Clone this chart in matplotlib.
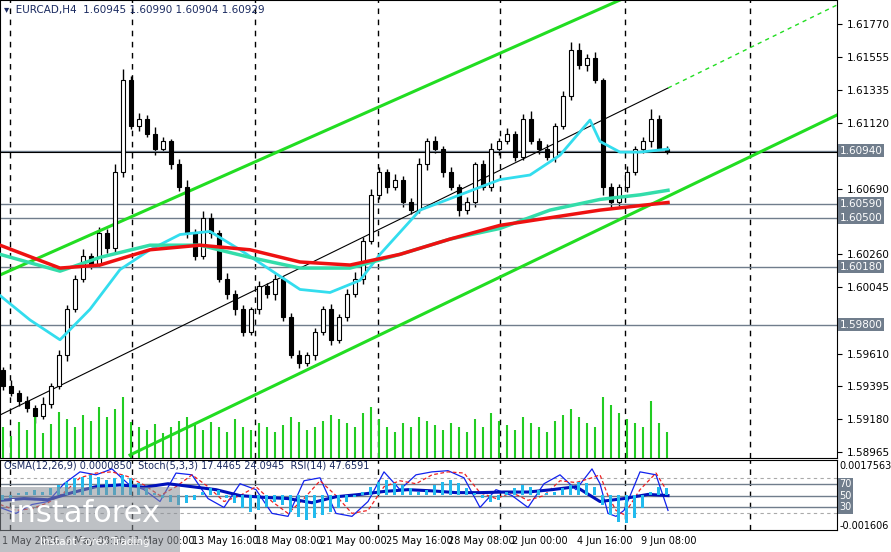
import numpy as np
import matplotlib
matplotlib.use("Agg")
import matplotlib.pyplot as plt

closes = [1.5940,1.5935,1.5930,1.5925,1.5920,1.5928,1.5940,1.5960,1.5990,1.6010,1.6025,1.6020,1.6040,1.6030,1.6080,1.6140,
          1.6110,1.6115,1.6105,1.6095,1.6100,1.6085,1.6070,1.6040,1.6025,1.6050,1.6040,1.6010,1.6000,1.5990,1.5975,1.5990,
          1.6005,1.6000,1.6010,1.5985,1.5960,1.5955,1.5960,1.5975,1.5990,1.5970,1.5985,1.6000,1.6010,1.6035,1.6065,1.6080,
          1.6070,1.6075,1.6060,1.6055,1.6085,1.6100,1.6095,1.6080,1.6070,1.6055,1.6060,1.6085,1.6070,1.6095,1.6100,1.6105,
          1.6090,1.6115,1.6100,1.6095,1.6090,1.6110,1.6130,1.6160,1.6150,1.6155,1.6140,1.6070,1.6060,1.6070,1.6080,1.6095,
          1.6100,1.6115,1.6095,1.6093]
opens = [1.5950] + closes[:-1]
wick_hi = [4,6,3,5,4,7,3,6,5,4,8,3,6,4,9,12,5,6,4,7,5,3,6,8,4,7,5,3,6,4,5,3,6,4,5,3,4,6,3,5,4,6,3,5,7,4,6,5,
           3,6,4,5,7,4,6,3,5,4,6,3,5,7,4,6,3,5,8,4,6,3,5,9,7,4,6,3,5,4,6,3,5,10,4,3]
wick_lo = [5,3,6,4,8,3,5,4,6,3,4,6,3,5,4,6,3,5,4,6,3,5,4,6,5,3,6,4,5,6,4,3,5,4,6,5,3,6,4,5,3,6,4,5,3,6,4,5,
           6,3,5,4,3,6,4,5,3,6,4,5,3,4,6,3,5,4,3,5,4,6,3,5,4,6,3,8,6,4,5,3,4,6,3,2]
volumes = [30,22,35,28,40,25,33,45,38,30,42,36,50,40,48,60,35,30,28,33,25,30,36,40,32,28,35,30,26,38,30,28,
           34,30,26,32,40,35,28,30,36,42,38,34,30,44,50,38,30,26,34,30,40,36,32,28,34,30,26,38,30,44,36,32,
           28,40,34,30,26,36,42,48,40,34,30,60,52,44,38,34,30,56,34,26]

ma_x_red = [0,60,100,150,200,250,300,350,400,450,500,550,600,668]
ma_red = [1.6032,1.6017,1.6019,1.6029,1.6032,1.6029,1.6021,1.6019,1.6026,1.6036,1.6045,1.6050,1.6055,1.6060]
ma_x_grn = [0,60,100,150,200,250,300,350,400,450,500,550,600,640,668]
ma_grn = [1.6026,1.6015,1.6024,1.6032,1.6032,1.6024,1.6017,1.6017,1.6026,1.6036,1.6043,1.6055,1.6062,1.6065,1.6068]
ma_x_cyn = [0,30,60,90,120,150,180,210,240,270,300,330,360,380,420,460,500,530,560,590,600,620,640,668]
ma_cyn = [1.5999,1.5983,1.5970,1.5990,1.6016,1.6029,1.6039,1.6041,1.6029,1.6016,1.6003,1.6001,1.6009,1.6026,1.6055,1.6065,
          1.6075,1.6078,1.6091,1.6114,1.6100,1.6093,1.6093,1.6095]

hlevels = [1.60940,1.60590,1.60500,1.60180,1.59800]
price_ticks = [1.61770,1.61555,1.61335,1.61120,1.60690,1.60260,1.60045,1.59610,1.59395,1.59180,1.58965]

osma = [-3,-2,1,2,3,2,4,6,8,10,11,12,11,9,10,12,10,7,4,1,-2,-4,-6,-5,-3,2,4,3,-2,-5,-8,-10,
        -9,-7,-4,-6,-10,-13,-15,-14,-12,-10,-8,-4,-1,2,5,8,9,7,6,4,2,3,6,8,9,7,4,1,-2,-4,-3,2,
        4,6,5,3,1,2,4,6,8,7,5,-6,-12,-16,-17,-14,-8,2,5,4]
st_x = [0,16,32,48,64,80,96,112,128,144,160,176,192,208,224,240,256,272,288,304,320,336,352,368,384,400,416,432,448,464,
        480,496,512,528,544,560,576,592,600,608,616,624,640,656,668]
stoch_main = [30,20,35,40,70,90,85,95,70,60,40,88,85,45,30,70,60,20,15,75,80,20,15,40,90,60,85,90,92,80,
              30,60,50,30,70,85,60,95,70,20,15,25,90,85,25]
stoch_sig = [35,25,28,38,55,80,88,90,82,68,50,65,85,65,40,50,65,40,20,45,75,50,20,25,65,75,70,85,90,88,
             55,45,55,42,50,75,72,80,85,50,25,18,60,88,55]
rsi_x = [0,24,48,72,96,120,144,168,192,216,240,264,288,312,336,360,384,408,432,456,480,504,528,552,576,600,624,648,668]
rsi = [42,45,43,55,65,68,64,70,65,60,50,47,45,38,48,52,57,60,58,55,55,56,56,60,65,40,45,52,50]

date_px = [2,65,128,192,256,320,386,448,512,577,641]
date_lbl = ["1 May 2026","6 May 08:00","11 May 00:00","13 May 16:00","18 May 08:00","21 May 00:00",
            "25 May 16:00","28 May 08:00","2 Jun 00:00","4 Jun 16:00","9 Jun 08:00"]
grid_px = [10,132,255,378,500,625,750]

W, H = 891, 552
fig = plt.figure(figsize=(W/100, H/100), dpi=100)
fig.patch.set_facecolor("white")
ax = fig.add_axes([0, 1-458/H, 837/W, 458/H])
ax2 = fig.add_axes([0, 1-530/H, 837/W, 70/H])

def py(y):  # pixel y to price
    return 1.61927 - y*0.00006554
xs = np.arange(len(closes))*8+3
ax.set_xlim(0, 837)
ax.set_ylim(py(458), py(0))
for gx in grid_px:
    ax.axvline(gx, color="black", ls=(0,(4,4)), lw=1)
    ax2.axvline(gx, color="black", ls=(0,(4,4)), lw=1)

axv = ax.twinx(); axv.set_ylim(0, 450); axv.set_axis_off()
axv.vlines(xs, 0, volumes, color="#22cc22", lw=1.5)

for x,o,c,wh,wl in zip(xs,opens,closes,wick_hi,wick_lo):
    hi = max(o,c)+wh*1e-4*0.6; lo = min(o,c)-wl*1e-4*0.6
    ax.vlines(x, lo, hi, color="black", lw=1)
    bot = min(o,c); h = max(abs(c-o), 0.00003)
    ax.add_patch(plt.Rectangle((x-1.8, bot), 3.6, h, facecolor="white" if c>=o else "black", edgecolor="black", lw=0.8, zorder=3))

for lv in hlevels:
    ax.axhline(lv, color="#707d8c", lw=1, zorder=2)
ax.axhline(1.60929, color="black", lw=0.8)
ax.plot([0,620],[py(275),py(0)], color="#22dd22", lw=2.2)
ax.plot([130,837],[py(455),py(115)], color="#22dd22", lw=2.2)
ax.plot([0,668],[py(415),py(88)], color="black", lw=0.8)
ax.plot([668,837],[py(88),py(5)], color="#22dd22", lw=1, ls=(0,(3,3)))
ax.plot(ma_x_cyn, ma_cyn, color="#33ddee", lw=2, zorder=4)
ax.plot(ma_x_grn, ma_grn, color="#33ddaa", lw=2.5, zorder=4)
ax.plot(ma_x_red, ma_red, color="#ee1111", lw=2.5, zorder=5)

ax.yaxis.tick_right()
ax.set_yticks(price_ticks)
ax.set_yticklabels([f"{p:.5f}" for p in price_ticks], fontsize=7.5)
ax.set_xticks([])
for lv in hlevels:
    ax.text(1.003, lv, f"{lv:.5f}", transform=ax.get_yaxis_transform(), fontsize=7.5, color="white",
            va="center", ha="left", bbox=dict(facecolor="#707d8c", edgecolor="none", pad=1.2), zorder=10, clip_on=False)
ax.text(4, py(10), "▾  EURCAD,H4  1.60945 1.60990 1.60904 1.60929", fontsize=7.5, color="#1a2a60", va="center")

ax2.set_xlim(0, 837)
ax2.set_ylim(-8, 110)
axo = ax2.twinx(); axo.set_ylim(-0.0021, 0.0021); axo.set_axis_off()
axo.bar(xs, np.array(osma)*1e-4, width=3, color="#22bbee")
for lv in [80,20]:
    ax2.axhline(lv, color="#aaaaaa", ls=(0,(3,3)), lw=0.8)
for lv in [70,50,30]:
    ax2.axhline(lv, color="#707d8c", lw=1)
ax2.plot(st_x, stoch_main, color="#1122ee", lw=0.9)
ax2.plot(st_x, stoch_sig, color="#ee2222", lw=0.9, ls=(0,(3,2)))
ax2.plot(rsi_x, rsi, color="#0011bb", lw=2.2)
ax2.set_yticks([]); ax2.set_xticks(date_px)
ax2.set_xticklabels(date_lbl, fontsize=7, ha="left")
ax2.tick_params(axis="x", length=0, pad=4)
ax2.text(4, 100, "OsMA(12,26,9) 0.0000850  Stoch(5,3,3) 17.4465 24.0945  RSI(14) 47.6591", fontsize=7, color="#1a2a60", va="center")
for lv in [70,50,30]:
    ax2.text(1.003, lv, str(lv), transform=ax2.get_yaxis_transform(), fontsize=7, color="white", va="center",
             bbox=dict(facecolor="#707d8c", edgecolor="none", pad=0.8), clip_on=False)
ax2.text(1.003, 100, "0.0017563", transform=ax2.get_yaxis_transform(), fontsize=7, va="center", clip_on=False)
ax2.text(1.003, -2, "-0.001606", transform=ax2.get_yaxis_transform(), fontsize=7, va="center", clip_on=False)

fig.patches.append(plt.Rectangle((0, 0), 180/W, 65/H, transform=fig.transFigure, facecolor="#8a8f96",
                                 alpha=0.55, edgecolor="none", zorder=20))
fig.text(8/W, 1-513/H, "instaforex", fontsize=22, color="white", va="center", zorder=21)
fig.text(40/W, 1-542/H, "Instant Forex Trading", fontsize=7.5, color="white", va="center", zorder=21)
fig.savefig("out.png", dpi=100, facecolor="white")
